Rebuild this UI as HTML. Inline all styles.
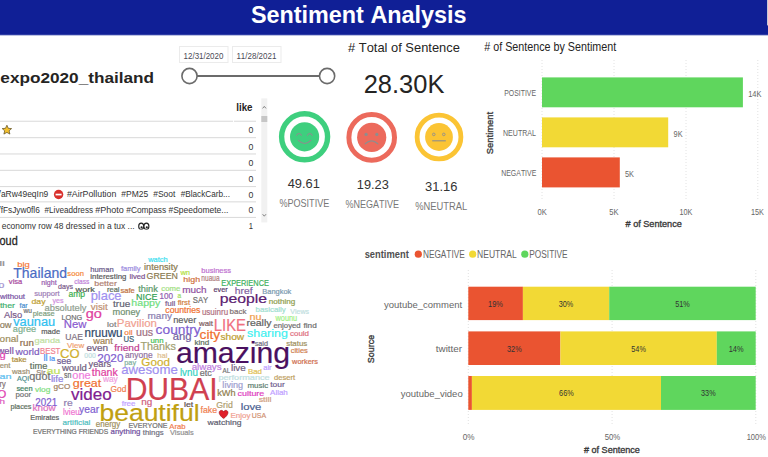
<!DOCTYPE html>
<html><head><meta charset="utf-8"><title>Sentiment Analysis</title>
<style>
html,body{margin:0;padding:0;background:#fff;width:768px;height:457px;overflow:hidden}
svg{display:block;font-family:"Liberation Sans",sans-serif;font-kerning:none}
text{font-kerning:none}
</style></head><body>
<svg width="768" height="457" viewBox="0 0 768 457">
<rect x="0" y="0" width="768" height="35" fill="#101f96"/>
<rect x="0" y="34.6" width="768" height="0.8" fill="#5a66b8"/>
<rect x="767" y="0" width="1" height="25.4" fill="#c8c8d4"/>
<text x="250.93" y="22.80" font-size="24.80" fill="#ffffff" font-weight="bold" textLength="215.63" lengthAdjust="spacingAndGlyphs">Sentiment Analysis</text>
<text x="0.33" y="83.30" font-size="14.30" fill="#252423" font-weight="bold" textLength="153.80" lengthAdjust="spacingAndGlyphs">expo2020_thailand</text>
<rect x="179.5" y="46.5" width="48.5" height="16" fill="#fff" stroke="#ebebeb" stroke-width="1"/>
<rect x="232.5" y="46.5" width="48.5" height="16" fill="#fff" stroke="#ebebeb" stroke-width="1"/>
<text x="183.59" y="59.00" font-size="9.00" fill="#4a4a55" textLength="39.82" lengthAdjust="spacingAndGlyphs">12/31/2020</text>
<text x="236.39" y="59.00" font-size="9.00" fill="#4a4a55" textLength="40.00" lengthAdjust="spacingAndGlyphs">11/28/2021</text>
<line x1="189.5" y1="76" x2="327" y2="76" stroke="#6b6b6b" stroke-width="2"/>
<circle cx="189.5" cy="76" r="7.6" fill="#fff" stroke="#6b6b6b" stroke-width="1.6"/>
<circle cx="327.1" cy="76" r="7.6" fill="#fff" stroke="#6b6b6b" stroke-width="1.6"/>
<text x="348.04" y="52.10" font-size="13.50" fill="#252423" textLength="111.83" lengthAdjust="spacingAndGlyphs"># Total of Sentence</text>
<text x="363.72" y="92.70" font-size="26.00" fill="#252423" textLength="80.67" lengthAdjust="spacingAndGlyphs">28.30K</text>
<text x="236.22" y="110.70" font-size="10.50" fill="#252423" font-weight="bold" textLength="16.32" lengthAdjust="spacingAndGlyphs">like</text>
<rect x="0" y="120.7" width="256" height="1.1" fill="#dcdcdc"/>
<rect x="0" y="137.1" width="256" height="1.1" fill="#dcdcdc"/>
<rect x="0" y="153.4" width="256" height="1.1" fill="#dcdcdc"/>
<rect x="0" y="169.8" width="256" height="1.1" fill="#dcdcdc"/>
<rect x="0" y="186.0" width="256" height="1.1" fill="#dcdcdc"/>
<rect x="0" y="201.3" width="256" height="1.1" fill="#dcdcdc"/>
<rect x="0" y="216.9" width="256" height="1.1" fill="#dcdcdc"/>
<rect x="233" y="120" width="1" height="2" fill="#fff"/>
<text x="248.46" y="133.30" font-size="9.20" fill="#333333" textLength="4.89" lengthAdjust="spacingAndGlyphs">0</text>
<text x="248.46" y="149.60" font-size="9.20" fill="#333333" textLength="4.89" lengthAdjust="spacingAndGlyphs">0</text>
<text x="248.46" y="165.80" font-size="9.20" fill="#333333" textLength="4.89" lengthAdjust="spacingAndGlyphs">0</text>
<text x="248.46" y="182.00" font-size="9.20" fill="#333333" textLength="4.89" lengthAdjust="spacingAndGlyphs">0</text>
<text x="248.46" y="197.90" font-size="9.20" fill="#333333" textLength="4.89" lengthAdjust="spacingAndGlyphs">0</text>
<text x="248.46" y="213.10" font-size="9.20" fill="#333333" textLength="4.89" lengthAdjust="spacingAndGlyphs">0</text>
<text x="248.72" y="228.60" font-size="9.20" fill="#333333" textLength="4.26" lengthAdjust="spacingAndGlyphs">1</text>
<text x="-2.20" y="197.30" font-size="8.70" fill="#333333" textLength="3.20" lengthAdjust="spacingAndGlyphs">/</text>
<text x="0.89" y="197.30" font-size="8.70" fill="#333333" textLength="47.41" lengthAdjust="spacingAndGlyphs">aRw49eqIn9</text>
<circle cx="58.6" cy="194.5" r="4.7" fill="#d9302c"/><rect x="55.6" y="193.7" width="6" height="1.7" fill="#fff"/>
<text x="66.96" y="197.30" font-size="8.70" fill="#333333" textLength="49.41" lengthAdjust="spacingAndGlyphs">#AirPollution</text>
<text x="121.36" y="197.30" font-size="8.70" fill="#333333" textLength="26.89" lengthAdjust="spacingAndGlyphs">#PM25</text>
<text x="153.26" y="197.30" font-size="8.70" fill="#333333" textLength="22.10" lengthAdjust="spacingAndGlyphs">#Soot</text>
<text x="180.66" y="197.30" font-size="8.70" fill="#333333" textLength="49.29" lengthAdjust="spacingAndGlyphs">#BlackCarb...</text>
<text x="-2.60" y="212.60" font-size="8.70" fill="#333333" textLength="3.20" lengthAdjust="spacingAndGlyphs">/</text>
<text x="0.68" y="212.60" font-size="8.70" fill="#333333" textLength="39.08" lengthAdjust="spacingAndGlyphs">fFsJyw0fl6</text>
<text x="44.56" y="212.60" font-size="8.70" fill="#333333" textLength="48.53" lengthAdjust="spacingAndGlyphs">#Liveaddress</text>
<text x="95.16" y="212.60" font-size="8.70" fill="#333333" textLength="28.52" lengthAdjust="spacingAndGlyphs">#Photo</text>
<text x="126.26" y="212.60" font-size="8.70" fill="#333333" textLength="39.94" lengthAdjust="spacingAndGlyphs">#Compass</text>
<text x="168.46" y="212.60" font-size="8.70" fill="#333333" textLength="59.91" lengthAdjust="spacingAndGlyphs">#Speedomete...</text>
<text x="1.74" y="229.10" font-size="8.70" fill="#333333" textLength="132.83" lengthAdjust="spacingAndGlyphs">economy row 48 dressed in a tux ...</text>
<ellipse cx="141.2" cy="226.3" rx="2.5" ry="3.2" fill="#fff" stroke="#222" stroke-width="1.1"/><ellipse cx="146.4" cy="226.3" rx="2.5" ry="3.2" fill="#fff" stroke="#222" stroke-width="1.1"/>
<circle cx="141.6" cy="227.3" r="1.1" fill="#222"/><circle cx="146.8" cy="227.3" r="1.1" fill="#222"/>
<path d="M6.9 125.2 L8.3 128.3 L11.6 128.6 L9.1 130.8 L9.9 134.1 L6.9 132.4 L3.9 134.1 L4.7 130.8 L2.2 128.6 L5.5 128.3 Z" fill="#f5c12e" stroke="#5a4a20" stroke-width="0.7"/>
<rect x="261.3" y="98.4" width="6" height="124" fill="#f1f1f1"/>
<rect x="261.3" y="116" width="6" height="6" fill="#c6c6c6"/>
<path d="M262.6 108.4 L264.3 106.4 L266 108.4" fill="none" stroke="#666" stroke-width="0.8"/>
<path d="M262.6 214.2 L264.3 216.2 L266 214.2" fill="none" stroke="#666" stroke-width="0.8"/>
<circle cx="304.6" cy="136.8" r="23.00" fill="none" stroke="#3ecf7e" stroke-width="5.4"/>
<circle cx="304.6" cy="136.8" r="14.6" fill="#3ecf7e"/>
<path d="M296.6 135.2 Q299 131.8 301.4 135.2 M307.4 135.2 Q309.8 131.8 312.2 135.2" fill="none" stroke="#8e8e8e" stroke-width="1.1" stroke-linecap="round"/>
<path d="M298.4 140.4 Q304.6 146.6 310.8 140.4" fill="none" stroke="#8e8e8e" stroke-width="1.2" stroke-linecap="round"/>
<circle cx="371.7" cy="137.4" r="22.80" fill="none" stroke="#ec6a5c" stroke-width="5.0"/>
<circle cx="371.7" cy="137.4" r="14.6" fill="#ec6a5c"/>
<circle cx="366.1" cy="134.4" r="1.6" fill="#8e8e8e"/><circle cx="376.8" cy="134.4" r="1.6" fill="#8e8e8e"/>
<path d="M365.2 143.8 Q371.5 137.8 377.8 143.8" fill="none" stroke="#8e8e8e" stroke-width="1.2" stroke-linecap="round"/>
<circle cx="439.0" cy="137.0" r="21.90" fill="none" stroke="#fbc434" stroke-width="4.8"/>
<circle cx="439.0" cy="137.0" r="13.9" fill="#fbc434"/>
<circle cx="433.8" cy="134.4" r="1.3" fill="none" stroke="#8e8e8e" stroke-width="0.9"/><circle cx="443.8" cy="134.4" r="1.3" fill="none" stroke="#8e8e8e" stroke-width="0.9"/>
<path d="M432.2 140.8 L445.8 140.8" fill="none" stroke="#8e8e8e" stroke-width="1.1"/>
<text x="287.70" y="188.20" font-size="13.00" fill="#333333" textLength="32.22" lengthAdjust="spacingAndGlyphs">49.61</text>
<text x="356.82" y="188.70" font-size="13.00" fill="#333333" textLength="32.04" lengthAdjust="spacingAndGlyphs">19.23</text>
<text x="425.01" y="190.80" font-size="13.00" fill="#333333" textLength="32.36" lengthAdjust="spacingAndGlyphs">31.16</text>
<text x="279.38" y="206.50" font-size="10.60" fill="#777777" textLength="49.91" lengthAdjust="spacingAndGlyphs">%POSITIVE</text>
<text x="345.48" y="207.80" font-size="10.60" fill="#777777" textLength="53.61" lengthAdjust="spacingAndGlyphs">%NEGATIVE</text>
<text x="415.27" y="209.60" font-size="10.60" fill="#777777" textLength="51.94" lengthAdjust="spacingAndGlyphs">%NEUTRAL</text>
<text x="484.25" y="51.00" font-size="12.00" fill="#252423" textLength="131.93" lengthAdjust="spacingAndGlyphs"># of Sentence by Sentiment</text>
<line x1="542" y1="60" x2="542" y2="200" stroke="#e2e2e2" stroke-width="1" stroke-dasharray="1,2"/>
<line x1="614" y1="60" x2="614" y2="200" stroke="#e2e2e2" stroke-width="1" stroke-dasharray="1,2"/>
<line x1="686" y1="60" x2="686" y2="200" stroke="#e2e2e2" stroke-width="1" stroke-dasharray="1,2"/>
<line x1="757.8" y1="60" x2="757.8" y2="200" stroke="#e2e2e2" stroke-width="1" stroke-dasharray="1,2"/>
<rect x="542" y="77.4" width="200.9" height="29.9" fill="#5fd65d"/>
<rect x="542" y="117.4" width="126.2" height="29.9" fill="#f2d935"/>
<rect x="542" y="157.4" width="77.8" height="30" fill="#ea5431"/>
<text x="504.24" y="96.00" font-size="8.80" fill="#666666" textLength="31.76" lengthAdjust="spacingAndGlyphs">POSITIVE</text>
<text x="503.02" y="136.20" font-size="8.80" fill="#666666" textLength="32.91" lengthAdjust="spacingAndGlyphs">NEUTRAL</text>
<text x="501.23" y="176.20" font-size="8.80" fill="#666666" textLength="35.07" lengthAdjust="spacingAndGlyphs">NEGATIVE</text>
<text x="748.13" y="97.40" font-size="8.80" fill="#666666" textLength="13.25" lengthAdjust="spacingAndGlyphs">14K</text>
<text x="673.55" y="136.50" font-size="8.80" fill="#666666" textLength="9.03" lengthAdjust="spacingAndGlyphs">9K</text>
<text x="624.91" y="176.60" font-size="8.80" fill="#666666" textLength="8.98" lengthAdjust="spacingAndGlyphs">5K</text>
<text x="537.50" y="215.10" font-size="8.50" fill="#666666" textLength="9.28" lengthAdjust="spacingAndGlyphs">0K</text>
<text x="609.35" y="215.10" font-size="8.50" fill="#666666" textLength="9.29" lengthAdjust="spacingAndGlyphs">5K</text>
<text x="679.40" y="215.10" font-size="8.50" fill="#666666" textLength="12.94" lengthAdjust="spacingAndGlyphs">10K</text>
<text x="751.00" y="215.10" font-size="8.50" fill="#666666" textLength="12.94" lengthAdjust="spacingAndGlyphs">15K</text>
<text x="625.56" y="226.80" font-size="9.40" fill="#3a3a3a" textLength="56.25" lengthAdjust="spacingAndGlyphs" stroke="#3a3a3a" stroke-width="0.35"># of Sentence</text>
<g transform="translate(493.1,133.0) rotate(-90)">
<text x="0" y="0" font-size="9.8" fill="#3a3a3a" stroke="#3a3a3a" stroke-width="0.35" text-anchor="middle" textLength="42.3" lengthAdjust="spacingAndGlyphs">Sentiment</text>
</g>
<text x="364.67" y="257.90" font-size="10.00" fill="#505050" font-weight="bold" textLength="44.14" lengthAdjust="spacingAndGlyphs">sentiment</text>
<circle cx="418.3" cy="254.2" r="3.6" fill="#ea5431"/>
<text x="422.92" y="257.90" font-size="10.00" fill="#666666" textLength="41.83" lengthAdjust="spacingAndGlyphs">NEGATIVE</text>
<circle cx="472.7" cy="254.2" r="3.6" fill="#f2d935"/>
<text x="477.10" y="257.90" font-size="10.00" fill="#666666" textLength="39.68" lengthAdjust="spacingAndGlyphs">NEUTRAL</text>
<circle cx="524.8" cy="254.2" r="3.6" fill="#5fd65d"/>
<text x="529.22" y="257.90" font-size="10.00" fill="#666666" textLength="38.44" lengthAdjust="spacingAndGlyphs">POSITIVE</text>
<line x1="468.3" y1="270" x2="468.3" y2="425" stroke="#e2e2e2" stroke-width="1" stroke-dasharray="1,2"/>
<line x1="612.1" y1="270" x2="612.1" y2="425" stroke="#e2e2e2" stroke-width="1" stroke-dasharray="1,2"/>
<line x1="755.8" y1="270" x2="755.8" y2="425" stroke="#e2e2e2" stroke-width="1" stroke-dasharray="1,2"/>
<rect x="468.3" y="286.7" width="54.6" height="33.4" fill="#ea5431"/>
<text x="488.04" y="306.70" font-size="8.20" fill="#333333" textLength="14.83" lengthAdjust="spacingAndGlyphs">19%</text>
<rect x="522.9" y="286.7" width="86.3" height="33.4" fill="#f2d935"/>
<text x="558.77" y="306.70" font-size="8.20" fill="#333333" textLength="14.54" lengthAdjust="spacingAndGlyphs">30%</text>
<rect x="609.2" y="286.7" width="146.5" height="33.4" fill="#5fd65d"/>
<text x="675.16" y="306.70" font-size="8.20" fill="#333333" textLength="14.55" lengthAdjust="spacingAndGlyphs">51%</text>
<rect x="468.3" y="331.4" width="92.1" height="33.6" fill="#ea5431"/>
<text x="507.07" y="351.50" font-size="8.20" fill="#333333" textLength="14.54" lengthAdjust="spacingAndGlyphs">32%</text>
<rect x="560.4" y="331.4" width="156.4" height="33.6" fill="#f2d935"/>
<text x="631.31" y="351.50" font-size="8.20" fill="#333333" textLength="14.55" lengthAdjust="spacingAndGlyphs">54%</text>
<rect x="716.8" y="331.4" width="38.9" height="33.6" fill="#5fd65d"/>
<text x="728.69" y="351.50" font-size="8.20" fill="#333333" textLength="14.83" lengthAdjust="spacingAndGlyphs">14%</text>
<rect x="468.3" y="376.0" width="3.6" height="33.9" fill="#ea5431"/>
<rect x="471.9" y="376.0" width="189.1" height="33.9" fill="#f2d935"/>
<text x="559.08" y="396.25" font-size="8.20" fill="#333333" textLength="14.63" lengthAdjust="spacingAndGlyphs">66%</text>
<rect x="661.0" y="376.0" width="94.7" height="33.9" fill="#5fd65d"/>
<text x="701.07" y="396.25" font-size="8.20" fill="#333333" textLength="14.54" lengthAdjust="spacingAndGlyphs">33%</text>
<text x="384.08" y="307.70" font-size="9.90" fill="#666666" textLength="77.99" lengthAdjust="spacingAndGlyphs">youtube_comment</text>
<text x="435.75" y="352.10" font-size="9.90" fill="#666666" textLength="26.41" lengthAdjust="spacingAndGlyphs">twitter</text>
<text x="400.78" y="397.00" font-size="9.90" fill="#666666" textLength="61.92" lengthAdjust="spacingAndGlyphs">youtube_video</text>
<text x="462.68" y="439.90" font-size="8.50" fill="#666666" textLength="11.81" lengthAdjust="spacingAndGlyphs">0%</text>
<text x="604.69" y="439.90" font-size="8.50" fill="#666666" textLength="15.59" lengthAdjust="spacingAndGlyphs">50%</text>
<text x="746.63" y="439.90" font-size="8.50" fill="#666666" textLength="19.24" lengthAdjust="spacingAndGlyphs">100%</text>
<text x="583.96" y="452.50" font-size="9.40" fill="#3a3a3a" textLength="55.94" lengthAdjust="spacingAndGlyphs" stroke="#3a3a3a" stroke-width="0.35"># of Sentence</text>
<g transform="translate(373.7,349.0) rotate(-90)">
<text x="0" y="0" font-size="9.6" fill="#3a3a3a" stroke="#3a3a3a" stroke-width="0.35" text-anchor="middle" textLength="28.3" lengthAdjust="spacingAndGlyphs">Source</text>
</g>
<rect x="0" y="229.6" width="352" height="228" fill="#fff"/>
<text x="-0.46" y="244.70" font-size="12.80" fill="#252423" textLength="18.16" lengthAdjust="spacingAndGlyphs" stroke="#252423" stroke-width="0.3">oud</text>
<text x="-0.87" y="266.00" font-size="7.00" fill="#909090" textLength="5.74" lengthAdjust="spacingAndGlyphs" stroke="#909090" stroke-width="0.2">li</text>
<text x="17.19" y="266.60" font-size="8.00" fill="#f5793a" textLength="12.62" lengthAdjust="spacingAndGlyphs" stroke="#f5793a" stroke-width="0.2">big</text>
<text x="13.18" y="278.40" font-size="14.37" fill="#4a6cc4" textLength="53.92" lengthAdjust="spacingAndGlyphs" stroke="#4a6cc4" stroke-width="0.2">Thailand</text>
<text x="67.39" y="275.80" font-size="7.40" fill="#f5883a" textLength="16.51" lengthAdjust="spacingAndGlyphs" stroke="#f5883a" stroke-width="0.2">soon</text>
<text x="8.87" y="284.00" font-size="6.80" fill="#a84aa0" textLength="13.43" lengthAdjust="spacingAndGlyphs" stroke="#a84aa0" stroke-width="0.2">visa</text>
<text x="-1.41" y="288.00" font-size="7.50" fill="#a090d0" textLength="5.82" lengthAdjust="spacingAndGlyphs" stroke="#a090d0" stroke-width="0.2">0</text>
<text x="41.33" y="285.00" font-size="6.72" fill="#9a60b0" textLength="15.42" lengthAdjust="spacingAndGlyphs" stroke="#9a60b0" stroke-width="0.2">night</text>
<text x="74.22" y="284.40" font-size="6.61" fill="#c080d8" textLength="15.02" lengthAdjust="spacingAndGlyphs" stroke="#c080d8" stroke-width="0.2">class</text>
<text x="58.10" y="289.00" font-size="7.24" fill="#7a5a8a" textLength="14.95" lengthAdjust="spacingAndGlyphs" stroke="#7a5a8a" stroke-width="0.2">days</text>
<text x="75.61" y="291.80" font-size="7.75" fill="#505a50" textLength="19.27" lengthAdjust="spacingAndGlyphs" stroke="#505a50" stroke-width="0.2">work</text>
<text x="0.01" y="298.70" font-size="7.23" fill="#7a55a5" textLength="25.05" lengthAdjust="spacingAndGlyphs" stroke="#7a55a5" stroke-width="0.2">without</text>
<text x="34.19" y="295.80" font-size="7.25" fill="#a080b8" textLength="25.47" lengthAdjust="spacingAndGlyphs" stroke="#a080b8" stroke-width="0.2">support</text>
<text x="68.43" y="297.00" font-size="8.44" fill="#40b050" textLength="16.73" lengthAdjust="spacingAndGlyphs" stroke="#40b050" stroke-width="0.2">amp</text>
<text x="148.21" y="262.00" font-size="6.60" fill="#40e0f0" textLength="19.37" lengthAdjust="spacingAndGlyphs" stroke="#40e0f0" stroke-width="0.2">watch</text>
<text x="90.37" y="271.50" font-size="7.30" fill="#6a5a8a" textLength="23.32" lengthAdjust="spacingAndGlyphs" stroke="#6a5a8a" stroke-width="0.2">human</text>
<text x="120.89" y="270.60" font-size="7.52" fill="#9a8ae0" textLength="19.62" lengthAdjust="spacingAndGlyphs" stroke="#9a8ae0" stroke-width="0.2">family</text>
<text x="144.08" y="269.50" font-size="8.74" fill="#8a7a50" textLength="33.73" lengthAdjust="spacingAndGlyphs" stroke="#8a7a50" stroke-width="0.2">intensity</text>
<text x="90.38" y="278.60" font-size="7.40" fill="#5a5a5a" textLength="35.92" lengthAdjust="spacingAndGlyphs" stroke="#5a5a5a" stroke-width="0.2">interesting</text>
<text x="129.49" y="278.60" font-size="7.57" fill="#7a5090" textLength="15.71" lengthAdjust="spacingAndGlyphs" stroke="#7a5090" stroke-width="0.2">lived</text>
<text x="146.56" y="279.20" font-size="9.69" fill="#8a7a50" textLength="31.36" lengthAdjust="spacingAndGlyphs" stroke="#8a7a50" stroke-width="0.2">GREEN</text>
<text x="94.33" y="286.10" font-size="7.66" fill="#b08070" textLength="22.51" lengthAdjust="spacingAndGlyphs" stroke="#b08070" stroke-width="0.2">better</text>
<text x="107.00" y="291.80" font-size="6.64" fill="#607060" textLength="12.50" lengthAdjust="spacingAndGlyphs" stroke="#607060" stroke-width="0.2">real</text>
<text x="120.49" y="292.60" font-size="6.79" fill="#c07040" textLength="14.24" lengthAdjust="spacingAndGlyphs" stroke="#c07040" stroke-width="0.2">safe</text>
<text x="138.26" y="291.80" font-size="8.23" fill="#5a9a6a" textLength="19.63" lengthAdjust="spacingAndGlyphs" stroke="#5a9a6a" stroke-width="0.2">think</text>
<text x="161.37" y="290.70" font-size="7.37" fill="#a0e080" textLength="18.97" lengthAdjust="spacingAndGlyphs" stroke="#a0e080" stroke-width="0.2">come</text>
<text x="90.67" y="300.40" font-size="12.23" fill="#a090f0" textLength="30.91" lengthAdjust="spacingAndGlyphs" stroke="#a090f0" stroke-width="0.2">place</text>
<text x="135.96" y="299.80" font-size="9.48" fill="#30a050" textLength="21.42" lengthAdjust="spacingAndGlyphs" stroke="#30a050" stroke-width="0.2">NICE</text>
<text x="159.38" y="298.70" font-size="8.51" fill="#9060b0" textLength="13.53" lengthAdjust="spacingAndGlyphs" stroke="#9060b0" stroke-width="0.2">100</text>
<text x="180.41" y="274.60" font-size="8.00" fill="#b0e040" textLength="9.68" lengthAdjust="spacingAndGlyphs" stroke="#b0e040" stroke-width="0.2">wn</text>
<text x="201.31" y="273.10" font-size="7.13" fill="#c070d0" textLength="29.76" lengthAdjust="spacingAndGlyphs" stroke="#c070d0" stroke-width="0.2">business</text>
<text x="183.39" y="281.50" font-size="7.80" fill="#d07040" textLength="16.69" lengthAdjust="spacingAndGlyphs" stroke="#d07040" stroke-width="0.2">high</text>
<text x="201.36" y="281.20" font-size="8.50" fill="#b08080" textLength="18.24" lengthAdjust="spacingAndGlyphs" stroke="#b08080" stroke-width="0.2">nuaua</text>
<text x="221.29" y="286.40" font-size="8.28" fill="#40b060" textLength="47.62" lengthAdjust="spacingAndGlyphs" stroke="#40b060" stroke-width="0.2">EXPERIENCE</text>
<text x="182.24" y="292.60" font-size="9.29" fill="#9050a0" textLength="24.41" lengthAdjust="spacingAndGlyphs" stroke="#9050a0" stroke-width="0.2">much</text>
<text x="213.59" y="291.80" font-size="7.81" fill="#5a3a6a" textLength="14.13" lengthAdjust="spacingAndGlyphs" stroke="#5a3a6a" stroke-width="0.2">ever</text>
<text x="234.89" y="294.10" font-size="9.49" fill="#8060a0" textLength="17.70" lengthAdjust="spacingAndGlyphs" stroke="#8060a0" stroke-width="0.2">href</text>
<text x="177.52" y="298.00" font-size="6.50" fill="#a0e060" textLength="3.68" lengthAdjust="spacingAndGlyphs" stroke="#a0e060" stroke-width="0.2">a</text>
<text x="192.85" y="302.90" font-size="8.37" fill="#707070" textLength="15.42" lengthAdjust="spacingAndGlyphs" stroke="#707070" stroke-width="0.2">SAY</text>
<text x="219.68" y="303.20" font-size="13.19" fill="#5a2070" textLength="47.42" lengthAdjust="spacingAndGlyphs" stroke="#5a2070" stroke-width="0.2">people</text>
<text x="262.29" y="293.80" font-size="6.94" fill="#7a9ab0" textLength="29.00" lengthAdjust="spacingAndGlyphs" stroke="#7a9ab0" stroke-width="0.2">Bangkok</text>
<text x="268.66" y="303.70" font-size="6.87" fill="#90a050" textLength="26.66" lengthAdjust="spacingAndGlyphs" stroke="#90a050" stroke-width="0.2">nothing</text>
<text x="-0.13" y="307.50" font-size="7.86" fill="#40b070" textLength="15.18" lengthAdjust="spacingAndGlyphs" stroke="#40b070" stroke-width="0.2">ther</text>
<text x="19.60" y="307.50" font-size="6.54" fill="#4a90d0" textLength="8.01" lengthAdjust="spacingAndGlyphs" stroke="#4a90d0" stroke-width="0.2">far</text>
<text x="31.53" y="304.30" font-size="7.96" fill="#c0a030" textLength="14.08" lengthAdjust="spacingAndGlyphs" stroke="#c0a030" stroke-width="0.2">day</text>
<text x="52.48" y="303.20" font-size="7.17" fill="#d090e0" textLength="11.07" lengthAdjust="spacingAndGlyphs" stroke="#d090e0" stroke-width="0.2">yes</text>
<text x="44.50" y="311.00" font-size="8.51" fill="#90a090" textLength="42.01" lengthAdjust="spacingAndGlyphs" stroke="#90a090" stroke-width="0.2">absolutely</text>
<text x="3.98" y="317.50" font-size="9.26" fill="#7a5a8a" textLength="18.21" lengthAdjust="spacingAndGlyphs" stroke="#7a5a8a" stroke-width="0.2">Also</text>
<text x="23.51" y="313.00" font-size="7.00" fill="#707070" textLength="8.43" lengthAdjust="spacingAndGlyphs" stroke="#707070" stroke-width="0.2">wu</text>
<text x="32.72" y="316.30" font-size="6.96" fill="#80a080" textLength="22.01" lengthAdjust="spacingAndGlyphs" stroke="#80a080" stroke-width="0.2">please</text>
<text x="61.50" y="320.40" font-size="7.64" fill="#707070" textLength="20.64" lengthAdjust="spacingAndGlyphs" stroke="#707070" stroke-width="0.2">LONG</text>
<text x="13.16" y="326.10" font-size="12.00" fill="#30c0f0" textLength="42.10" lengthAdjust="spacingAndGlyphs" stroke="#30c0f0" stroke-width="0.2">vaunau</text>
<text x="63.77" y="328.40" font-size="11.13" fill="#8a5ad0" textLength="22.70" lengthAdjust="spacingAndGlyphs" stroke="#8a5ad0" stroke-width="0.2">New</text>
<text x="-0.39" y="327.80" font-size="8.77" fill="#908060" textLength="11.87" lengthAdjust="spacingAndGlyphs" stroke="#908060" stroke-width="0.2">ow</text>
<text x="12.81" y="331.80" font-size="8.70" fill="#80b090" textLength="23.40" lengthAdjust="spacingAndGlyphs" stroke="#80b090" stroke-width="0.2">agree</text>
<text x="41.30" y="334.10" font-size="6.79" fill="#606060" textLength="18.83" lengthAdjust="spacingAndGlyphs" stroke="#606060" stroke-width="0.2">made</text>
<text x="65.24" y="339.80" font-size="9.49" fill="#807080" textLength="17.63" lengthAdjust="spacingAndGlyphs" stroke="#807080" stroke-width="0.2">UAE</text>
<text x="-0.42" y="342.10" font-size="8.16" fill="#a09060" textLength="18.89" lengthAdjust="spacingAndGlyphs" stroke="#a09060" stroke-width="0.2">onal</text>
<text x="19.75" y="345.60" font-size="8.50" fill="#907050" textLength="14.08" lengthAdjust="spacingAndGlyphs" stroke="#907050" stroke-width="0.2">run</text>
<text x="34.61" y="343.30" font-size="7.92" fill="#c0e0a0" textLength="25.59" lengthAdjust="spacingAndGlyphs" stroke="#c0e0a0" stroke-width="0.2">ganda</text>
<text x="66.97" y="347.70" font-size="7.68" fill="#f0a070" textLength="17.22" lengthAdjust="spacingAndGlyphs" stroke="#f0a070" stroke-width="0.2">View</text>
<text x="90.87" y="309.50" font-size="9.33" fill="#c09070" textLength="16.91" lengthAdjust="spacingAndGlyphs" stroke="#c09070" stroke-width="0.2">visit</text>
<text x="113.05" y="307.20" font-size="9.48" fill="#606070" textLength="17.19" lengthAdjust="spacingAndGlyphs" stroke="#606070" stroke-width="0.2">true</text>
<text x="131.37" y="306.00" font-size="9.98" fill="#70e080" textLength="28.85" lengthAdjust="spacingAndGlyphs" stroke="#70e080" stroke-width="0.2">happy</text>
<text x="85.69" y="317.50" font-size="12.00" fill="#e040a0" textLength="16.12" lengthAdjust="spacingAndGlyphs" stroke="#e040a0" stroke-width="0.2">go</text>
<text x="112.59" y="314.60" font-size="9.20" fill="#709070" textLength="27.63" lengthAdjust="spacingAndGlyphs" stroke="#709070" stroke-width="0.2">money</text>
<text x="147.54" y="319.20" font-size="9.68" fill="#8a80b0" textLength="24.48" lengthAdjust="spacingAndGlyphs" stroke="#8a80b0" stroke-width="0.2">many</text>
<text x="107.10" y="326.70" font-size="7.50" fill="#808080" textLength="9.36" lengthAdjust="spacingAndGlyphs" stroke="#808080" stroke-width="0.2">lot</text>
<text x="116.86" y="326.70" font-size="11.17" fill="#f0a090" textLength="40.08" lengthAdjust="spacingAndGlyphs" stroke="#f0a090" stroke-width="0.2">Pavilion</text>
<text x="155.62" y="333.50" font-size="13.07" fill="#8060d0" textLength="45.11" lengthAdjust="spacingAndGlyphs" stroke="#8060d0" stroke-width="0.2">country</text>
<text x="84.43" y="337.00" font-size="12.50" fill="#304a6a" textLength="38.14" lengthAdjust="spacingAndGlyphs" stroke="#304a6a" stroke-width="0.2">nruuwu</text>
<text x="124.35" y="334.70" font-size="7.88" fill="#f08040" textLength="8.30" lengthAdjust="spacingAndGlyphs" stroke="#f08040" stroke-width="0.2">oil</text>
<text x="136.01" y="335.80" font-size="10.50" fill="#a07080" textLength="17.18" lengthAdjust="spacingAndGlyphs" stroke="#a07080" stroke-width="0.2">uus</text>
<text x="123.50" y="342.10" font-size="9.00" fill="#406070" textLength="10.75" lengthAdjust="spacingAndGlyphs" stroke="#406070" stroke-width="0.2">US</text>
<text x="93.21" y="344.40" font-size="8.79" fill="#a08050" textLength="19.55" lengthAdjust="spacingAndGlyphs" stroke="#a08050" stroke-width="0.2">want</text>
<text x="150.49" y="342.70" font-size="7.50" fill="#40c050" textLength="13.01" lengthAdjust="spacingAndGlyphs" stroke="#40c050" stroke-width="0.2">unn</text>
<text x="140.46" y="349.50" font-size="10.85" fill="#a0a070" textLength="35.43" lengthAdjust="spacingAndGlyphs" stroke="#a0a070" stroke-width="0.2">Thanks</text>
<text x="165.09" y="306.00" font-size="7.26" fill="#806090" textLength="10.36" lengthAdjust="spacingAndGlyphs" stroke="#806090" stroke-width="0.2">full</text>
<text x="177.69" y="304.90" font-size="7.26" fill="#d08040" textLength="12.36" lengthAdjust="spacingAndGlyphs" stroke="#d08040" stroke-width="0.2">first</text>
<text x="165.33" y="312.90" font-size="8.21" fill="#f07030" textLength="35.08" lengthAdjust="spacingAndGlyphs" stroke="#f07030" stroke-width="0.2">countries</text>
<text x="201.88" y="314.60" font-size="9.00" fill="#b07080" textLength="26.25" lengthAdjust="spacingAndGlyphs" stroke="#b07080" stroke-width="0.2">usuinru</text>
<text x="229.58" y="313.50" font-size="7.61" fill="#807070" textLength="16.90" lengthAdjust="spacingAndGlyphs" stroke="#807070" stroke-width="0.2">back</text>
<text x="173.19" y="323.20" font-size="9.30" fill="#606060" textLength="23.07" lengthAdjust="spacingAndGlyphs" stroke="#606060" stroke-width="0.2">never</text>
<text x="199.01" y="325.50" font-size="7.45" fill="#806060" textLength="13.95" lengthAdjust="spacingAndGlyphs" stroke="#806060" stroke-width="0.2">wait</text>
<text x="213.78" y="330.70" font-size="16.68" fill="#f07080" textLength="32.26" lengthAdjust="spacingAndGlyphs" stroke="#f07080" stroke-width="0.2">LIKE</text>
<text x="199.51" y="338.70" font-size="13.12" fill="#f07030" textLength="20.71" lengthAdjust="spacingAndGlyphs" stroke="#f07030" stroke-width="0.2">city</text>
<text x="220.42" y="340.40" font-size="8.65" fill="#c0a030" textLength="23.76" lengthAdjust="spacingAndGlyphs" stroke="#c0a030" stroke-width="0.2">show</text>
<text x="172.72" y="340.40" font-size="10.15" fill="#7060a0" textLength="18.70" lengthAdjust="spacingAndGlyphs" stroke="#7060a0" stroke-width="0.2">ang</text>
<text x="194.46" y="345.20" font-size="7.30" fill="#607060" textLength="14.76" lengthAdjust="spacingAndGlyphs" stroke="#607060" stroke-width="0.2">kind</text>
<text x="255.49" y="312.30" font-size="7.17" fill="#a0e0d0" textLength="30.33" lengthAdjust="spacingAndGlyphs" stroke="#a0e0d0" stroke-width="0.2">basically</text>
<text x="290.37" y="313.50" font-size="7.28" fill="#c0e0e0" textLength="18.68" lengthAdjust="spacingAndGlyphs" stroke="#c0e0e0" stroke-width="0.2">Views</text>
<text x="249.58" y="319.80" font-size="8.50" fill="#f0a050" textLength="12.04" lengthAdjust="spacingAndGlyphs" stroke="#f0a050" stroke-width="0.2">nu</text>
<text x="275.51" y="321.00" font-size="8.50" fill="#a0f080" textLength="21.68" lengthAdjust="spacingAndGlyphs" stroke="#a0f080" stroke-width="0.2">wounu</text>
<text x="246.40" y="326.10" font-size="9.74" fill="#606060" textLength="25.12" lengthAdjust="spacingAndGlyphs" stroke="#606060" stroke-width="0.2">really</text>
<text x="273.47" y="328.10" font-size="7.37" fill="#707070" textLength="27.23" lengthAdjust="spacingAndGlyphs" stroke="#707070" stroke-width="0.2">enjoyed</text>
<text x="303.48" y="328.40" font-size="7.38" fill="#707070" textLength="13.25" lengthAdjust="spacingAndGlyphs" stroke="#707070" stroke-width="0.2">find</text>
<text x="247.05" y="337.00" font-size="11.25" fill="#40f0f0" textLength="40.75" lengthAdjust="spacingAndGlyphs" stroke="#40f0f0" stroke-width="0.2">sharing</text>
<text x="290.06" y="336.40" font-size="7.24" fill="#e07080" textLength="18.95" lengthAdjust="spacingAndGlyphs" stroke="#e07080" stroke-width="0.2">could</text>
<text x="254.70" y="345.60" font-size="6.91" fill="#707080" textLength="13.27" lengthAdjust="spacingAndGlyphs" stroke="#707080" stroke-width="0.2">said</text>
<text x="286.18" y="345.60" font-size="7.52" fill="#a09060" textLength="21.11" lengthAdjust="spacingAndGlyphs" stroke="#a09060" stroke-width="0.2">status</text>
<text x="-2.49" y="353.90" font-size="8.50" fill="#8050a0" textLength="16.22" lengthAdjust="spacingAndGlyphs" stroke="#8050a0" stroke-width="0.2">well</text>
<text x="15.51" y="354.60" font-size="9.21" fill="#8060c0" textLength="24.14" lengthAdjust="spacingAndGlyphs" stroke="#8060c0" stroke-width="0.2">world</text>
<text x="40.06" y="353.50" font-size="8.70" fill="#f08090" textLength="20.32" lengthAdjust="spacingAndGlyphs" stroke="#f08090" stroke-width="0.2">BEST</text>
<text x="60.04" y="358.00" font-size="13.53" fill="#d0b030" textLength="19.59" lengthAdjust="spacingAndGlyphs" stroke="#d0b030" stroke-width="0.2">CO</text>
<text x="-0.47" y="357.50" font-size="9.50" fill="#e040b0" textLength="6.18" lengthAdjust="spacingAndGlyphs" stroke="#e040b0" stroke-width="0.2">g</text>
<text x="11.88" y="362.00" font-size="6.81" fill="#b09040" textLength="14.87" lengthAdjust="spacingAndGlyphs" stroke="#b09040" stroke-width="0.2">take</text>
<text x="43.47" y="360.90" font-size="8.89" fill="#4a90f0" textLength="4.16" lengthAdjust="spacingAndGlyphs" stroke="#4a90f0" stroke-width="0.2">ll</text>
<text x="49.31" y="360.90" font-size="7.90" fill="#4a90f0" textLength="5.69" lengthAdjust="spacingAndGlyphs" stroke="#4a90f0" stroke-width="0.2">la</text>
<text x="56.85" y="364.40" font-size="9.21" fill="#705a90" textLength="14.55" lengthAdjust="spacingAndGlyphs" stroke="#705a90" stroke-width="0.2">see</text>
<text x="-0.33" y="367.80" font-size="7.30" fill="#a09070" textLength="10.68" lengthAdjust="spacingAndGlyphs" stroke="#a09070" stroke-width="0.2">ent</text>
<text x="29.86" y="368.70" font-size="8.83" fill="#607060" textLength="17.55" lengthAdjust="spacingAndGlyphs" stroke="#607060" stroke-width="0.2">time</text>
<text x="61.91" y="370.70" font-size="8.61" fill="#706080" textLength="24.90" lengthAdjust="spacingAndGlyphs" stroke="#706080" stroke-width="0.2">would</text>
<text x="12.01" y="374.10" font-size="7.16" fill="#a09070" textLength="18.09" lengthAdjust="spacingAndGlyphs" stroke="#a09070" stroke-width="0.2">wash</text>
<text x="36.36" y="375.20" font-size="8.00" fill="#908070" textLength="9.06" lengthAdjust="spacingAndGlyphs" stroke="#908070" stroke-width="0.2">Sir</text>
<text x="46.47" y="373.50" font-size="9.00" fill="#c0e060" textLength="13.97" lengthAdjust="spacingAndGlyphs" stroke="#c0e060" stroke-width="0.2">au</text>
<text x="64.00" y="377.50" font-size="8.50" fill="#707070" textLength="7.45" lengthAdjust="spacingAndGlyphs" stroke="#707070" stroke-width="0.2">sn</text>
<text x="72.34" y="378.70" font-size="9.99" fill="#f080e0" textLength="18.46" lengthAdjust="spacingAndGlyphs" stroke="#f080e0" stroke-width="0.2">one</text>
<text x="-0.46" y="378.70" font-size="8.00" fill="#60c0f0" textLength="12.07" lengthAdjust="spacingAndGlyphs" stroke="#60c0f0" stroke-width="0.2">an</text>
<text x="16.99" y="381.00" font-size="7.55" fill="#509090" textLength="12.27" lengthAdjust="spacingAndGlyphs" stroke="#509090" stroke-width="0.2">AQI</text>
<text x="29.34" y="380.40" font-size="10.32" fill="#707070" textLength="21.14" lengthAdjust="spacingAndGlyphs" stroke="#707070" stroke-width="0.2">quot</text>
<text x="50.94" y="381.50" font-size="9.19" fill="#9080e0" textLength="12.49" lengthAdjust="spacingAndGlyphs" stroke="#9080e0" stroke-width="0.2">life</text>
<text x="-0.50" y="387.30" font-size="8.50" fill="#807070" textLength="6.21" lengthAdjust="spacingAndGlyphs" stroke="#807070" stroke-width="0.2">ry</text>
<text x="53.56" y="389.40" font-size="8.10" fill="#a08060" textLength="16.84" lengthAdjust="spacingAndGlyphs" stroke="#a08060" stroke-width="0.2">gCO</text>
<text x="72.77" y="387.30" font-size="11.81" fill="#f07030" textLength="28.52" lengthAdjust="spacingAndGlyphs" stroke="#f07030" stroke-width="0.2">great</text>
<text x="16.39" y="390.90" font-size="7.62" fill="#408060" textLength="16.19" lengthAdjust="spacingAndGlyphs" stroke="#408060" stroke-width="0.2">seen</text>
<text x="34.97" y="392.30" font-size="7.39" fill="#80e080" textLength="15.37" lengthAdjust="spacingAndGlyphs" stroke="#80e080" stroke-width="0.2">vlog</text>
<text x="86.48" y="351.20" font-size="9.67" fill="#705a80" textLength="21.67" lengthAdjust="spacingAndGlyphs" stroke="#705a80" stroke-width="0.2">even</text>
<text x="114.26" y="350.60" font-size="9.44" fill="#c04090" textLength="25.40" lengthAdjust="spacingAndGlyphs" stroke="#c04090" stroke-width="0.2">friend</text>
<text x="84.33" y="358.40" font-size="6.41" fill="#c0e0e0" textLength="11.44" lengthAdjust="spacingAndGlyphs" stroke="#c0e0e0" stroke-width="0.2">000</text>
<text x="97.21" y="361.50" font-size="11.77" fill="#8060d0" textLength="26.25" lengthAdjust="spacingAndGlyphs" stroke="#8060d0" stroke-width="0.2">2020</text>
<text x="124.94" y="357.50" font-size="8.36" fill="#9070a0" textLength="27.63" lengthAdjust="spacingAndGlyphs" stroke="#9070a0" stroke-width="0.2">anyone</text>
<text x="157.38" y="357.50" font-size="6.65" fill="#e0c090" textLength="10.03" lengthAdjust="spacingAndGlyphs" stroke="#e0c090" stroke-width="0.2">hai</text>
<text x="88.58" y="367.20" font-size="9.33" fill="#705a80" textLength="22.66" lengthAdjust="spacingAndGlyphs" stroke="#705a80" stroke-width="0.2">years</text>
<text x="124.22" y="364.90" font-size="7.29" fill="#80b0a0" textLength="11.89" lengthAdjust="spacingAndGlyphs" stroke="#80b0a0" stroke-width="0.2">pay</text>
<text x="141.31" y="366.10" font-size="10.87" fill="#d0b030" textLength="28.64" lengthAdjust="spacingAndGlyphs" stroke="#d0b030" stroke-width="0.2">Good</text>
<text x="91.84" y="375.80" font-size="10.32" fill="#e040a0" textLength="25.95" lengthAdjust="spacingAndGlyphs" stroke="#e040a0" stroke-width="0.2">thank</text>
<text x="121.24" y="374.10" font-size="12.81" fill="#a090f0" textLength="56.55" lengthAdjust="spacingAndGlyphs" stroke="#a090f0" stroke-width="0.2">awesome</text>
<text x="102.91" y="382.10" font-size="8.34" fill="#f0a0e0" textLength="14.90" lengthAdjust="spacingAndGlyphs" stroke="#f0a0e0" stroke-width="0.2">way</text>
<text x="110.48" y="391.70" font-size="8.63" fill="#f08050" textLength="15.86" lengthAdjust="spacingAndGlyphs" stroke="#f08050" stroke-width="0.2">God</text>
<text x="125.63" y="400.30" font-size="31.86" fill="#d04050" textLength="91.94" lengthAdjust="spacingAndGlyphs" stroke="#d04050" stroke-width="0.2">DUBAI</text>
<text x="175.92" y="362.60" font-size="29.12" fill="#4a1060" textLength="114.13" lengthAdjust="spacingAndGlyphs" stroke="#4a1060" stroke-width="0.2">amazing</text>
<text x="191.68" y="369.50" font-size="8.87" fill="#c080e0" textLength="29.97" lengthAdjust="spacingAndGlyphs" stroke="#c080e0" stroke-width="0.2">always</text>
<text x="230.93" y="370.70" font-size="9.34" fill="#706080" textLength="14.91" lengthAdjust="spacingAndGlyphs" stroke="#706080" stroke-width="0.2">live</text>
<text x="222.49" y="373.00" font-size="7.60" fill="#707070" textLength="7.62" lengthAdjust="spacingAndGlyphs" stroke="#707070" stroke-width="0.2">AL</text>
<text x="179.94" y="376.40" font-size="10.50" fill="#30d0c0" textLength="17.91" lengthAdjust="spacingAndGlyphs" stroke="#30d0c0" stroke-width="0.2">lvnu</text>
<text x="199.71" y="376.40" font-size="8.64" fill="#707070" textLength="12.13" lengthAdjust="spacingAndGlyphs" stroke="#707070" stroke-width="0.2">etc</text>
<text x="218.41" y="379.80" font-size="7.74" fill="#c0e0e0" textLength="51.19" lengthAdjust="spacingAndGlyphs" stroke="#c0e0e0" stroke-width="0.2">performance</text>
<text x="222.39" y="388.40" font-size="8.13" fill="#a0a0d0" textLength="20.70" lengthAdjust="spacingAndGlyphs" stroke="#a0a0d0" stroke-width="0.2">living</text>
<text x="290.68" y="352.90" font-size="7.17" fill="#d08050" textLength="17.19" lengthAdjust="spacingAndGlyphs" stroke="#d08050" stroke-width="0.2">cities</text>
<text x="292.11" y="363.80" font-size="6.59" fill="#d07050" textLength="25.86" lengthAdjust="spacingAndGlyphs" stroke="#d07050" stroke-width="0.2">workers</text>
<text x="263.18" y="370.00" font-size="7.22" fill="#c0a0ff" textLength="8.45" lengthAdjust="spacingAndGlyphs" stroke="#c0a0ff" stroke-width="0.2">air</text>
<text x="247.95" y="373.50" font-size="7.95" fill="#e0c050" textLength="14.06" lengthAdjust="spacingAndGlyphs" stroke="#e0c050" stroke-width="0.2">Bad</text>
<text x="274.08" y="379.80" font-size="7.00" fill="#c0a060" textLength="20.97" lengthAdjust="spacingAndGlyphs" stroke="#c0a060" stroke-width="0.2">desert</text>
<text x="270.27" y="386.70" font-size="8.03" fill="#706090" textLength="14.57" lengthAdjust="spacingAndGlyphs" stroke="#706090" stroke-width="0.2">tour</text>
<text x="247.47" y="388.40" font-size="7.58" fill="#608070" textLength="20.84" lengthAdjust="spacingAndGlyphs" stroke="#608070" stroke-width="0.2">music</text>
<text x="-2.53" y="397.50" font-size="10.00" fill="#e040b0" textLength="8.77" lengthAdjust="spacingAndGlyphs" stroke="#e040b0" stroke-width="0.2">O</text>
<text x="15.50" y="396.90" font-size="8.04" fill="#707070" textLength="15.53" lengthAdjust="spacingAndGlyphs" stroke="#707070" stroke-width="0.2">poor</text>
<text x="70.94" y="400.30" font-size="15.94" fill="#802090" textLength="40.67" lengthAdjust="spacingAndGlyphs" stroke="#802090" stroke-width="0.2">video</text>
<text x="35.31" y="405.50" font-size="10.04" fill="#8060d0" textLength="21.87" lengthAdjust="spacingAndGlyphs" stroke="#8060d0" stroke-width="0.2">2021</text>
<text x="-0.72" y="404.30" font-size="8.00" fill="#e060c0" textLength="5.80" lengthAdjust="spacingAndGlyphs" stroke="#e060c0" stroke-width="0.2">h</text>
<text x="63.52" y="405.50" font-size="9.81" fill="#9080b0" textLength="9.14" lengthAdjust="spacingAndGlyphs" stroke="#9080b0" stroke-width="0.2">re</text>
<text x="10.43" y="408.90" font-size="6.87" fill="#607060" textLength="21.03" lengthAdjust="spacingAndGlyphs" stroke="#607060" stroke-width="0.2">places</text>
<text x="32.53" y="411.20" font-size="8.90" fill="#e070c0" textLength="23.04" lengthAdjust="spacingAndGlyphs" stroke="#e070c0" stroke-width="0.2">know</text>
<text x="63.06" y="414.70" font-size="9.00" fill="#f070d0" textLength="16.58" lengthAdjust="spacingAndGlyphs" stroke="#f070d0" stroke-width="0.2">lvieu</text>
<text x="79.07" y="413.00" font-size="10.37" fill="#8060d0" textLength="20.00" lengthAdjust="spacingAndGlyphs" stroke="#8060d0" stroke-width="0.2">year</text>
<text x="30.30" y="420.40" font-size="7.45" fill="#606060" textLength="28.97" lengthAdjust="spacingAndGlyphs" stroke="#606060" stroke-width="0.2">Emirates</text>
<text x="62.55" y="425.10" font-size="7.78" fill="#50c0c0" textLength="27.80" lengthAdjust="spacingAndGlyphs" stroke="#50c0c0" stroke-width="0.2">artificial</text>
<text x="33.05" y="433.70" font-size="6.91" fill="#707070" textLength="75.16" lengthAdjust="spacingAndGlyphs" stroke="#707070" stroke-width="0.2">EVERYTHING FRIENDS</text>
<text x="121.69" y="405.50" font-size="6.84" fill="#c0a0ff" textLength="13.66" lengthAdjust="spacingAndGlyphs" stroke="#c0a0ff" stroke-width="0.2">free</text>
<text x="141.24" y="404.90" font-size="9.05" fill="#d06080" textLength="10.99" lengthAdjust="spacingAndGlyphs" stroke="#d06080" stroke-width="0.2">ng</text>
<text x="99.49" y="421.00" font-size="23.46" fill="#c0a010" textLength="100.08" lengthAdjust="spacingAndGlyphs" stroke="#c0a010" stroke-width="0.2">beautiful</text>
<text x="95.86" y="426.70" font-size="8.16" fill="#a09060" textLength="24.46" lengthAdjust="spacingAndGlyphs" stroke="#a09060" stroke-width="0.2">energy</text>
<text x="128.42" y="427.90" font-size="7.43" fill="#707070" textLength="39.08" lengthAdjust="spacingAndGlyphs" stroke="#707070" stroke-width="0.2">EVERYONE</text>
<text x="110.56" y="434.20" font-size="7.52" fill="#7050a0" textLength="29.95" lengthAdjust="spacingAndGlyphs" stroke="#7050a0" stroke-width="0.2">anything</text>
<text x="142.88" y="434.90" font-size="7.40" fill="#707080" textLength="20.80" lengthAdjust="spacingAndGlyphs" stroke="#707080" stroke-width="0.2">things</text>
<text x="217.28" y="395.80" font-size="8.23" fill="#908050" textLength="18.31" lengthAdjust="spacingAndGlyphs" stroke="#908050" stroke-width="0.2">kWh</text>
<text x="237.62" y="395.80" font-size="7.68" fill="#e040c0" textLength="26.57" lengthAdjust="spacingAndGlyphs" stroke="#e040c0" stroke-width="0.2">culture</text>
<text x="184.01" y="406.60" font-size="7.30" fill="#605050" textLength="9.25" lengthAdjust="spacingAndGlyphs" stroke="#605050" stroke-width="0.2">let</text>
<text x="216.26" y="407.80" font-size="8.58" fill="#b0a070" textLength="16.50" lengthAdjust="spacingAndGlyphs" stroke="#b0a070" stroke-width="0.2">Grid</text>
<text x="240.74" y="409.50" font-size="9.97" fill="#4a6090" textLength="20.66" lengthAdjust="spacingAndGlyphs" stroke="#4a6090" stroke-width="0.2">love</text>
<text x="200.58" y="412.90" font-size="8.77" fill="#f08050" textLength="16.51" lengthAdjust="spacingAndGlyphs" stroke="#f08050" stroke-width="0.2">fake</text>
<text x="230.45" y="417.50" font-size="7.70" fill="#f0a090" textLength="19.97" lengthAdjust="spacingAndGlyphs" stroke="#f0a090" stroke-width="0.2">Enjoy</text>
<text x="251.76" y="417.50" font-size="7.41" fill="#d09070" textLength="14.35" lengthAdjust="spacingAndGlyphs" stroke="#d09070" stroke-width="0.2">USA</text>
<text x="207.61" y="425.00" font-size="7.55" fill="#606070" textLength="33.84" lengthAdjust="spacingAndGlyphs" stroke="#606070" stroke-width="0.2">watching</text>
<text x="169.28" y="428.60" font-size="7.62" fill="#f08050" textLength="16.24" lengthAdjust="spacingAndGlyphs" stroke="#f08050" stroke-width="0.2">Arab</text>
<text x="169.97" y="434.90" font-size="7.35" fill="#909090" textLength="23.70" lengthAdjust="spacingAndGlyphs" stroke="#909090" stroke-width="0.2">Visuals</text>
<text x="270.08" y="395.20" font-size="7.77" fill="#c0a0ff" textLength="17.73" lengthAdjust="spacingAndGlyphs" stroke="#c0a0ff" stroke-width="0.2">Allah</text>
<text x="258.65" y="402.30" font-size="7.87" fill="#d0a080" textLength="12.95" lengthAdjust="spacingAndGlyphs" stroke="#d0a080" stroke-width="0.2">still</text>
<path d="M223.6 418.6 C219 415.2 218.6 412.4 219.6 411.2 C220.8 409.8 222.8 410.2 223.6 411.8 C224.4 410.2 226.4 409.8 227.6 411.2 C228.6 412.4 228.2 415.2 223.6 418.6 Z" fill="#e0202a" stroke="#901018" stroke-width="0.5"/>
</svg>
</body></html>
